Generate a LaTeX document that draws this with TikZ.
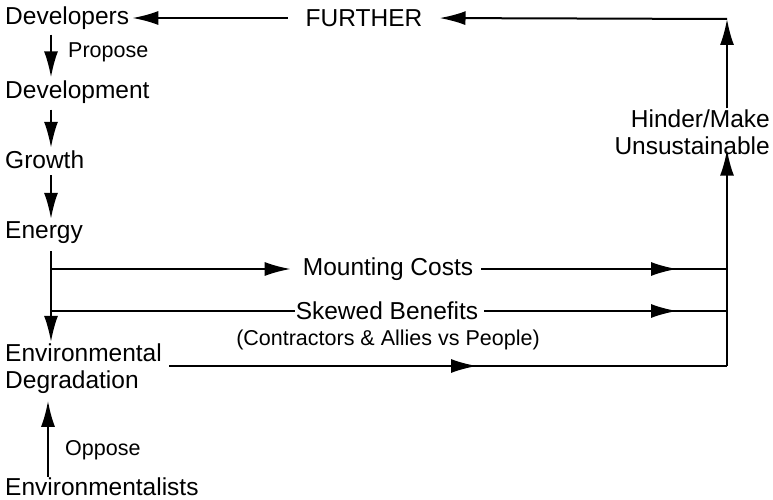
\documentclass[tikz,border=0pt]{standalone}
\usepackage{fontspec}
\setmainfont{Liberation Sans}
\usetikzlibrary{arrows.meta,decorations.markings}
\begin{document}
\begin{tikzpicture}[x=1pt,y=-1pt,
  lbl/.style={font=\fontsize{24.5}{27}\selectfont, inner sep=3pt},
  sml/.style={font=\fontsize{21.5}{24}\selectfont, inner sep=3pt},
  ln/.style={line width=2pt},
  arr/.style={ln, -{Latex[length=26pt,width=14pt]}},
  midarr/.style={ln, postaction={decorate}, decoration={markings, mark=at position #1 with {\arrow{Latex[length=26pt,width=14pt]}}}}
]
\useasboundingbox (0,0) rectangle (773,500);
% left column
\node[lbl, anchor=west] (dv) at (2,18) {Developers};
\node[sml, anchor=west] (pp) at (65,52) {Propose};
\node[lbl, anchor=west] (dm) at (2,92) {Development};
\node[lbl, anchor=west] (gr) at (2,160) {Growth};
\node[lbl, anchor=west] (en) at (2,233) {Energy};
\node[lbl, anchor=west, align=left] (ed) at (2,369) {Environmental\\Degradation};
\node[sml, anchor=west] (op) at (62,450) {Oppose};
\node[lbl, anchor=west] (em) at (2,487) {Environmentalists};
% top and right
\node[lbl] (fu) at (364,18) {FURTHER};
\node[lbl, anchor=east, align=right] (hm) at (773,132) {Hinder/Make\\Unsustainable};
% middle
\node[lbl] (mc) at (388,269) {Mounting Costs};
\node[lbl, inner sep=1pt] (sb) at (387,311) {Skewed Benefits};
\node[sml] (ca) at (388,340) {(Contractors \& Allies vs People)};
% coordinates
\coordinate (ax) at (51,0);
\coordinate (rx) at (727,0);
\coordinate (e1) at (51,269);
\coordinate (e2) at (51,311);
\coordinate (c1) at (727,269);
\coordinate (c2) at (727,311);
\coordinate (c3) at (727,366);
\coordinate (top) at (727,19);
% vertical chain
\draw[arr] (dv.south -| ax) ++(0,2) -- (dm.north -| ax);
\draw[arr] (dm.south -| ax) ++(0,3) -- (gr.north -| ax);
\draw[arr] (gr.south -| ax) ++(0,3) -- (en.north -| ax);
\draw[arr] (en.south -| ax) ++(0,4) -- ([yshift=-1pt]ed.north -| ax);
\draw[arr] ([yshift=-2pt]em.north -| ax) ++(-3,0) -- ++(0,-76);
% branches
\draw[arr, shorten >=9pt] (e1) -- (mc.west);
\draw[midarr=-50pt, shorten <=5pt] (mc.east) -- (c1);
\draw[ln] (e2) -- (sb.west);
\draw[midarr=-50pt, shorten <=5pt] (sb.east) -- (c2);
\draw[midarr=308pt] ([xshift=4pt]ed.east |- c3) -- (c3);
% right side
\draw[ln] (c3) -- (c1);
\draw[arr] (c1) -- ([yshift=8pt]hm.south -| rx);
\draw[arr] ([yshift=-2pt]hm.north -| rx) -- (top);
\draw[arr, shorten >=14pt] (top) -- (fu.east);
\draw[arr, shorten <=15pt] (fu.west) -- (dv.east);
\end{tikzpicture}
\end{document}
